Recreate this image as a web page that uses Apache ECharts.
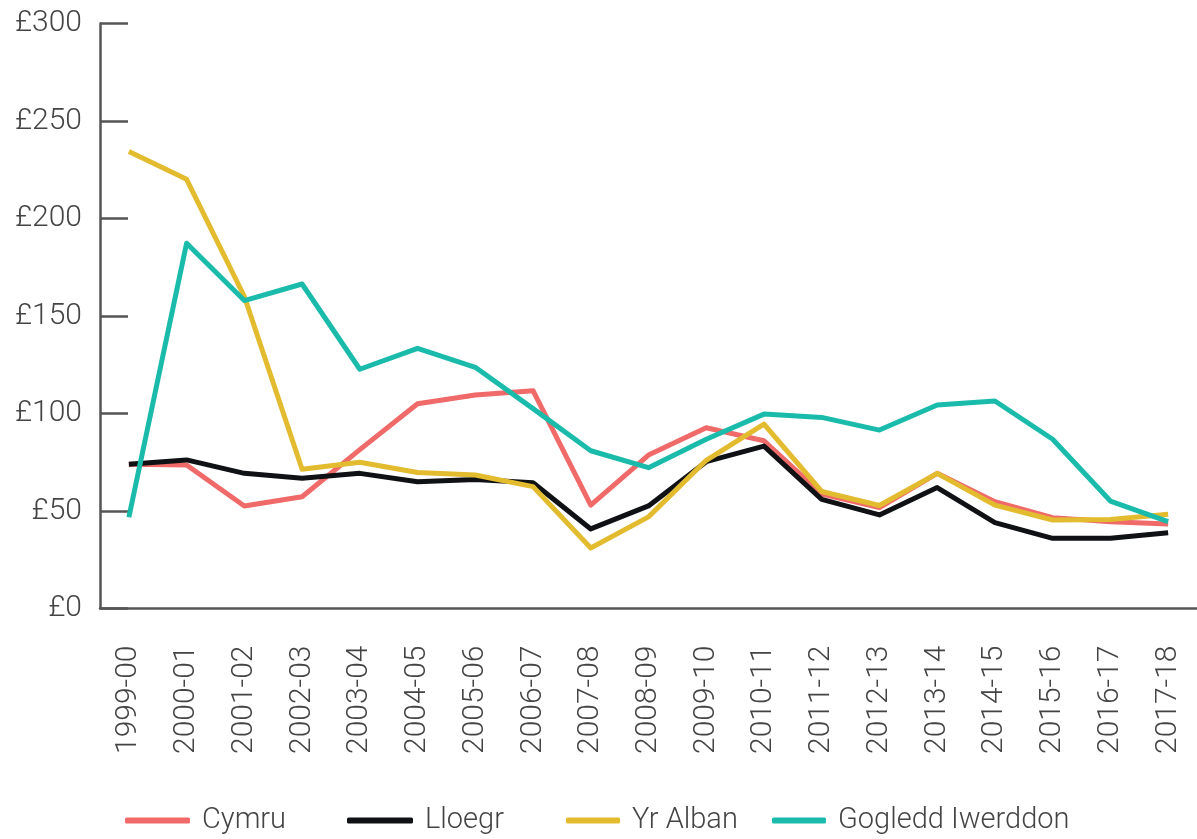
<!DOCTYPE html>
<html>
<head>
<meta charset="utf-8">
<script src="https://cdn.jsdelivr.net/npm/echarts@6/dist/echarts.min.js"></script>
<style>
html,body{margin:0;padding:0;background:#fff;}
#chart{width:1197px;height:839px;}
</style>
</head>
<body>
<div id="chart"></div>
<script>
const categories = ["1999-00","2000-01","2001-02","2002-03","2003-04","2004-05","2005-06","2006-07","2007-08","2008-09","2009-10","2010-11","2011-12","2012-13","2013-14","2014-15","2015-16","2016-17","2017-18"];
const cymru   = [74, 73.6, 52.6, 57.3, 81.5, 105, 109.5, 111.7, 53, 78.7, 92.7, 86, 58.7, 51.7, 69.3, 54.8, 46.6, 44.5, 43.3];
const lloegr  = [74, 76.2, 69.3, 66.8, 69.3, 65, 66.2, 64.5, 40.8, 52.6, 75.3, 83.3, 56, 48, 62, 44, 36, 36, 38.9];
const yrAlban = [234.3, 220.1, 160, 71.4, 75, 69.7, 68.5, 62.5, 31, 47, 76, 94.6, 60, 52.8, 69.3, 53, 45.4, 45.7, 48.3];
const gogledd = [46.8, 187.3, 157.9, 166.4, 122.7, 133.4, 123.7, 102.5, 80.9, 72.2, 86.8, 99.7, 98, 91.5, 104.4, 106.4, 86.8, 55.1, 44.5];
const yTicks = [0, 50, 100, 150, 200, 250, 300];

const seriesNames = ["Cymru", "Lloegr", "Yr Alban", "Gogledd Iwerddon"];
const seriesData = [cymru, lloegr, yrAlban, gogledd];
const colors = ["#EF6A69", "#0F1114", "#E2BB2F", "#1ABBAA"];

const legendLeft = [125, 347, 566, 772];
const legendIconW = [65, 66, 54, 54];

const font = "Roboto, 'Liberation Sans', sans-serif";
const chart = echarts.init(document.getElementById('chart'), null, {renderer: 'canvas'});
chart.setOption({
  animation: false,
  backgroundColor: '#fff',
  color: colors,
  grid: {left: 100, right: -5, top: 23.5, bottom: 230.5, containLabel: false},
  legend: seriesNames.map((n, i) => ({
    left: legendLeft[i], top: 806,
    padding: 0,
    icon: 'roundRect',
    itemWidth: legendIconW[i], itemHeight: 6,
    textStyle: {fontFamily: font, fontWeight: 300, fontSize: 29, color: '#444', padding: [0,0,0,7]},
    data: [n]
  })),
  xAxis: {
    type: 'category',
    data: categories,
    boundaryGap: true,
    axisLine: {lineStyle: {color: '#555', width: 2.5}},
    axisTick: {inside: true, length: 16, lineStyle: {color: '#555', width: 2.5}},
    axisLabel: {rotate: 90, margin: 37, fontFamily: font, fontWeight: 300, fontSize: 30, color: '#444'},
    splitLine: {show: false}
  },
  yAxis: {
    type: 'value',
    min: yTicks[0], max: yTicks[yTicks.length-1], interval: 50,
    axisLine: {show: true, lineStyle: {color: '#555', width: 2.5}},
    axisTick: {show: true, inside: true, length: 28, lineStyle: {color: '#555', width: 2.5}},
    axisLabel: {margin: 18, fontFamily: font, fontWeight: 300, fontSize: 30, color: '#444', formatter: v => '£' + v},
    splitLine: {show: false}
  },
  series: seriesNames.map((n, i) => ({
    name: n,
    type: 'line',
    data: seriesData[i],
    showSymbol: false,
    symbol: 'none',
    lineStyle: {width: 5, color: colors[i], join: 'round'},
    itemStyle: {color: colors[i]}
  }))
});
</script>
</body>
</html>
